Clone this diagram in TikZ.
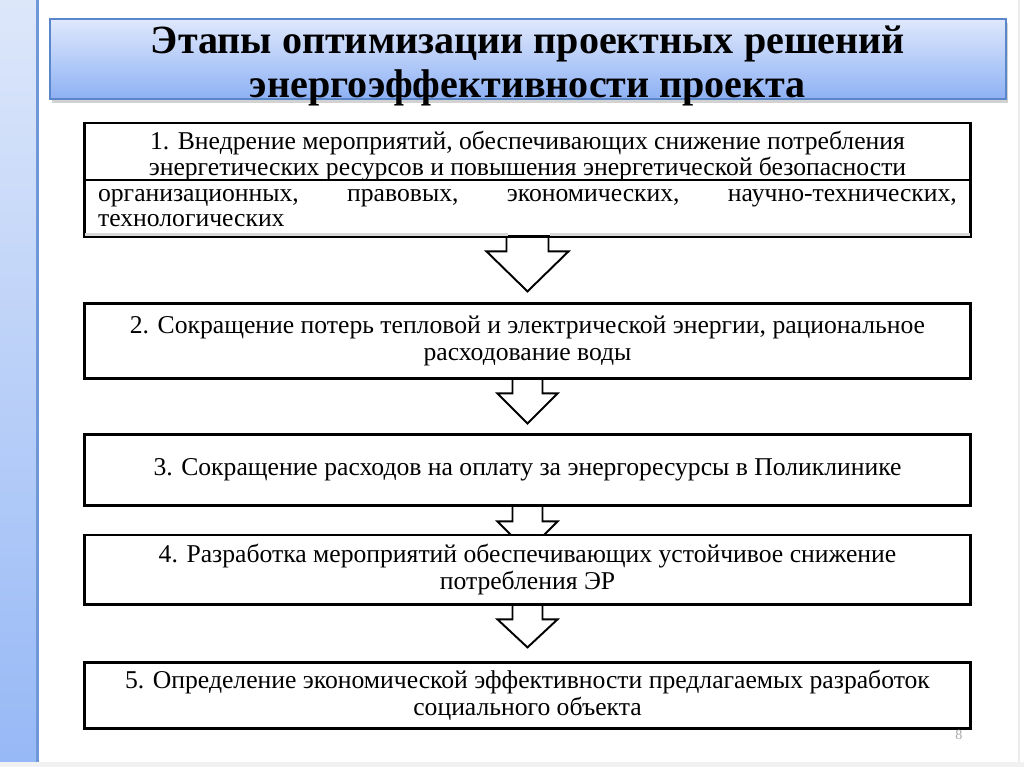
\documentclass[tikz,border=0pt]{standalone}
\usepackage{fontspec}
\setmainfont{Liberation Serif}
\usetikzlibrary{calc,shadows}
\definecolor{stripTop}{HTML}{DDE7FA}
\definecolor{stripBot}{HTML}{96B8F6}
\definecolor{stripLine}{HTML}{6F98D8}
\definecolor{titleTop}{HTML}{DFE8FC}
\definecolor{titleBot}{HTML}{8EB1F4}
\definecolor{titleLine}{HTML}{5A86CC}
\definecolor{pageGray}{HTML}{A8A8A8}
\definecolor{faintGray}{HTML}{D8D8D8}
\pgfdeclarelayer{bg}
\pgfdeclarelayer{arrows}
\pgfsetlayers{bg,arrows,main}
\newcommand{\flowarrow}[6]{% from, to, shaft half, shoulder offset, head half, tip offset
  \draw[blockarrow] ($(#1.south)+(-#3,-2)$) -- ($(#1.south)+(-#3,#4)$) -- ($(#1.south)+(-#5,#4)$)
    -- ($(#1.south)+(0,#6)$) -- ($(#1.south)+(#5,#4)$) -- ($(#1.south)+(#3,#4)$) -- ($(#1.south)+(#3,-2)$);}
\begin{document}
\begin{tikzpicture}[x=0.02cm,y=-0.02cm,
  stepbox/.style={draw=black, line width=1.6pt, fill=white, minimum width=17.72cm,
    inner sep=0pt, align=center, font=\fontsize{14.6}{15.4}\selectfont},
  blockarrow/.style={draw=black, line width=1.1pt, fill=white, line join=miter},
  titlebox/.style={draw=titleLine, line width=0.8pt, top color=titleTop, bottom color=titleBot,
    minimum width=19.12cm, minimum height=1.6cm,
    drop shadow={shadow xshift=1pt, shadow yshift=-2.5pt, opacity=0.35}},
  titletext/.style={align=center, font=\fontsize{22.8}{25}\selectfont\bfseries, inner sep=0pt},
  pagenum/.style={text=pageGray, font=\fontsize{8}{9}\selectfont, inner sep=0pt}
]
\useasboundingbox (0,0) rectangle (1024,767);
\begin{pgfonlayer}{bg}
  \fill[white] (0,0) rectangle (1024,767);
  \shade[top color=stripTop, bottom color=stripBot] (0,0) rectangle (36,767);
  \draw[stripLine, line width=1.7pt] (37.5,0) -- (37.5,767);
  \draw[faintGray!50, line width=0.6pt] (1019,0) -- (1019,767);
  \fill[faintGray!35] (0,762) rectangle (1024,767);
\end{pgfonlayer}

\node[titlebox] (titlebg) at (528,59) {};
\node[titletext] (title) at (528,66) {Этапы оптимизации проектных решений\\энергоэффективности проекта};

\node[stepbox, minimum height=1.11cm, font=\fontsize{14.6}{14.8}\selectfont] (b1a) at (527.5,152.25)
  {\rule{0pt}{0.54cm}1. Внедрение мероприятий, обеспечивающих снижение потребления\\
   энергетических ресурсов и повышения энергетической безопасности};
\node[stepbox, minimum height=1.13cm, align=justify, text width=17.18cm, font=\fontsize{14.6}{14.2}\selectfont] (b1b) at (527.5,208.25)
  {организационных,\hfill правовых,\hfill экономических,\hfill научно-технических,\\технологических};
\node[stepbox, minimum height=1.5cm] (b2) at (527.5,341)
  {2. Сокращение потерь тепловой и электрической энергии, рациональное\\расходование воды};
\node[stepbox, minimum height=1.42cm] (b3) at (527.5,470)
  {3. Сокращение расходов на оплату за энергоресурсы в Поликлинике};
\node[stepbox, minimum height=1.39cm] (b4) at (527.5,569.75)
  {4. Разработка мероприятий обеспечивающих устойчивое снижение\\потребления ЭР};
\node[stepbox, minimum height=1.32cm] (b5) at (527.5,695.5)
  {5. Определение экономической эффективности предлагаемых разработок\\социального объекта};

\draw[faintGray, line width=1.4pt] ($(b1b.south west)+(2,-3.5)$) -- ($(b1b.south)+(-20,-3.5)$);
\draw[faintGray, line width=1.4pt] ($(b1b.south)+(22,-3.5)$) -- ($(b1b.south east)+(-2,-3.5)$);

\begin{pgfonlayer}{arrows}
  \flowarrow{b1b}{b2}{21}{13.5}{41}{53.5}
  \flowarrow{b2}{b3}{15}{13.5}{30}{43.5}
  \flowarrow{b3}{b4}{15}{14.5}{30}{44.5}
  \flowarrow{b4}{b5}{15}{13.5}{30}{41.5}
\end{pgfonlayer}

\node[pagenum] (pg) at (959,735) {8};
\end{tikzpicture}
\end{document}
